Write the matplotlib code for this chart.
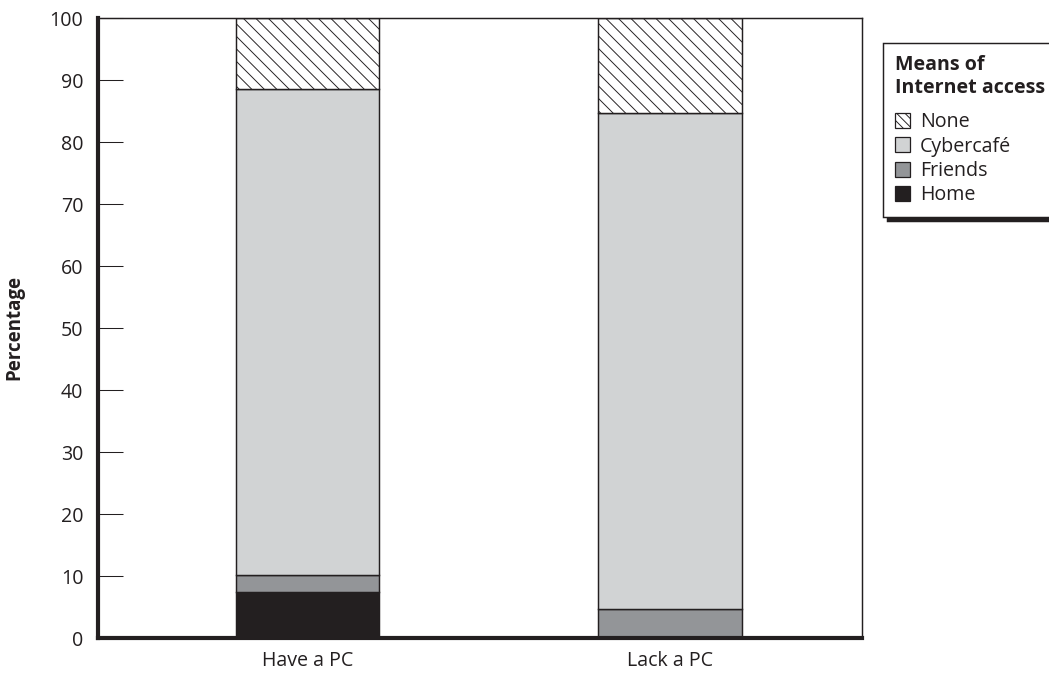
import matplotlib
matplotlib.use('Agg')
import numpy as np
import matplotlib.pyplot as plt
from matplotlib.patches import Patch

categories = ['Have a PC', 'Lack a PC']
home = [7.4, 0.0]
friends = [2.8, 4.6]
cybercafe = [78.3, 80.1]
none_ = [11.5, 15.3]

series_names = ['None', 'Cybercafé', 'Friends', 'Home']
y_ticks = [0, 10, 20, 30, 40, 50, 60, 70, 80, 90, 100]

plt.rcParams['font.family'] = ['Open Sans', 'DejaVu Sans']
plt.rcParams['hatch.linewidth'] = 0.45


def main():
    dpi = 150
    fs = 9.4
    fig = plt.figure(figsize=(1049 / dpi, 677 / dpi), dpi=dpi)
    ax = fig.add_axes([98 / 1049, 39 / 677, 764 / 1049, 620 / 677])

    x = np.arange(len(categories))
    width = 0.397
    edge = dict(edgecolor='#231f20', linewidth=0.7)

    b = np.zeros(len(categories))
    ax.bar(x, home, width, bottom=b, color='#231f20', **edge)
    b += home
    ax.bar(x, friends, width, bottom=b, color='#939598', **edge)
    b += friends
    ax.bar(x, cybercafe, width, bottom=b, color='#d1d3d4', **edge)
    b += cybercafe
    ax.bar(x, none_, width, bottom=b, color='white', hatch='\\\\\\\\', **edge)

    ax.set_xlim(-0.578, 1.53)
    ax.set_ylim(0, 100)
    ax.set_yticks(y_ticks)
    ax.set_xticks(x, categories)
    ax.tick_params(axis='y', direction='in', length=12, width=0.5, pad=7,
                   labelsize=fs, colors='#231f20')
    ax.tick_params(axis='x', length=0, pad=6, labelsize=fs, colors='#231f20')

    for side in ['left', 'bottom']:
        ax.spines[side].set_linewidth(2.0)
        ax.spines[side].set_color('#231f20')
    for side in ['top', 'right']:
        ax.spines[side].set_linewidth(0.7)
        ax.spines[side].set_color('#231f20')
    ax.spines['bottom'].set_zorder(5)
    ax.spines['left'].set_zorder(5)

    ax.set_ylabel('Percentage', fontsize=fs - 0.4, fontweight='bold', labelpad=12,
                  color='#231f20')

    handles = [
        Patch(facecolor='white', edgecolor='#231f20', hatch='\\\\\\\\\\\\', linewidth=0.6),
        Patch(facecolor='#d1d3d4', edgecolor='#231f20', linewidth=0.6),
        Patch(facecolor='#939598', edgecolor='#231f20', linewidth=0.6),
        Patch(facecolor='#231f20', edgecolor='#231f20', linewidth=0.6),
    ]
    leg = fig.legend(handles, series_names, loc='upper left',
                     bbox_to_anchor=(883 / 1049, 1 - 43 / 677),
                     title='Means of\nInternet access', alignment='left',
                     title_fontproperties={'weight': 'bold', 'size': fs},
                     fontsize=fs, frameon=True, fancybox=False,
                     shadow={'color': '#231f20', 'alpha': 1},
                     edgecolor='#231f20', borderaxespad=0,
                     handlelength=0.8, handleheight=0.8, handletextpad=0.5,
                     labelspacing=0.22, borderpad=0.6)
    leg._legend_box.sep = 7
    leg.get_frame().set_linewidth(0.7)
    for t in leg.get_texts():
        t.set_color('#231f20')
    leg.get_title().set_color('#231f20')

    fig.savefig('out.png', dpi=dpi)
    plt.close(fig)


if __name__ == '__main__':
    main()
